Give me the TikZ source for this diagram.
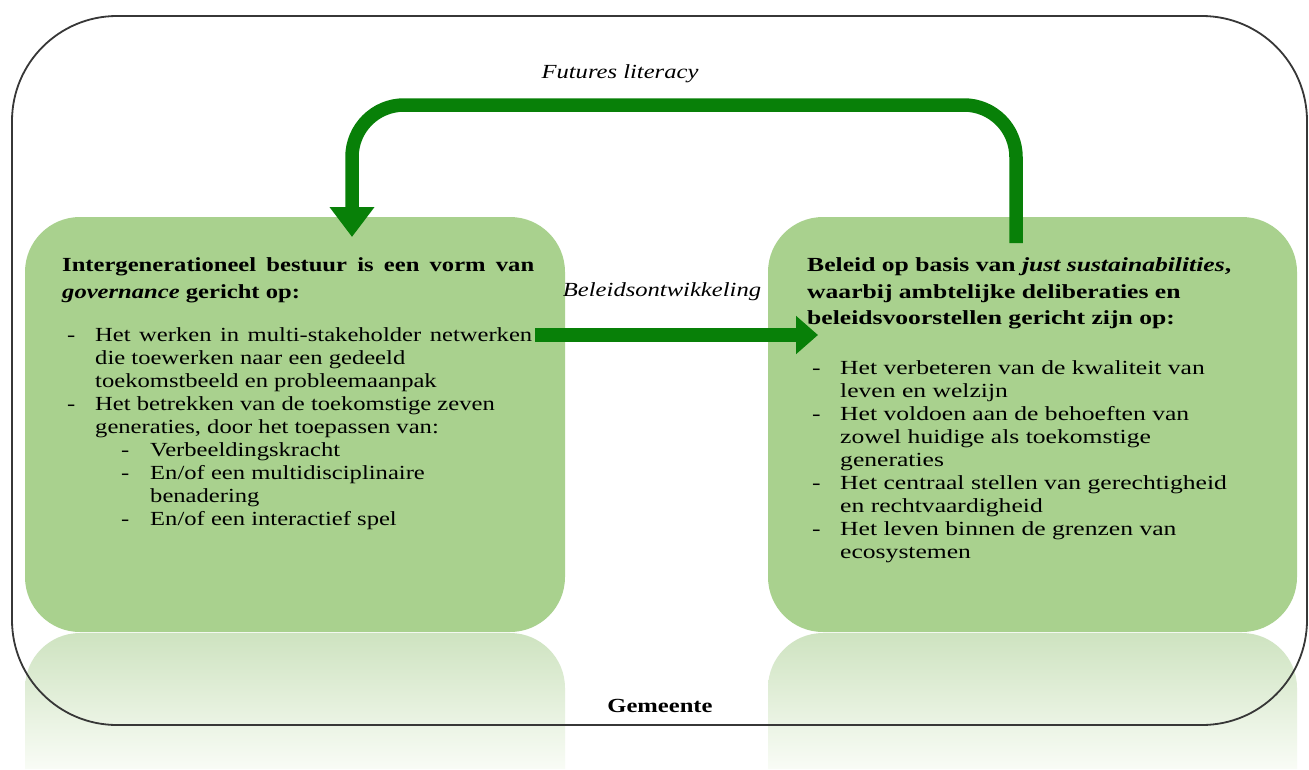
\documentclass[tikz,border=0pt]{standalone}
\usepackage{fontspec}
\setmainfont{Liberation Serif}[FakeStretch=1.23]
\newfontfamily\rfont{Liberation Serif}[FakeStretch=1.28]
\usetikzlibrary{arrows.meta}
\definecolor{boxgreen}{RGB}{169,209,142}
\definecolor{arrowgreen}{RGB}{8,128,8}
\definecolor{framegray}{RGB}{55,55,55}
\definecolor{refltop}{RGB}{206,227,192}
\definecolor{reflbot}{RGB}{249,252,246}
\newcommand{\txtline}[4]{\node[txt] (#1) at (#2,#3) {#4};}
\newcommand{\rtxtline}[4]{\node[rtxt] (#1) at (#2,#3) {#4};}
\begin{document}
\begin{tikzpicture}[x=1pt,y=-1pt,
  txt/.style={anchor=base west, inner sep=0pt, font=\fontsize{20}{23}\selectfont},
  rtxt/.style={anchor=base west, inner sep=0pt, font=\rfont\fontsize{20}{23}\selectfont},
  ttl/.style={txt, font=\fontsize{20}{23}\selectfont\bfseries},
  rttl/.style={txt, font=\rfont\fontsize{20}{23}\selectfont\bfseries},
  lbl/.style={anchor=base, inner sep=0pt, font=\fontsize{20}{23}\selectfont\itshape},
  greenbox/.style={fill=boxgreen, draw=none, rounded corners=55pt, inner sep=0pt},
  framebox/.style={draw=framegray, line width=1.8pt, rounded corners=105pt, inner sep=0pt},
  bigarrow/.style={draw=arrowgreen, line width=13.5pt},
  reflection/.style={top color=refltop, bottom color=reflbot}
]
\useasboundingbox (0,0) rectangle (1309,769);
\fill[white] (0,0) rectangle (1309,769);

% reflections
\shade[reflection] (25,769) -- (25,688) arc[start angle=180, end angle=270, radius=55] -- (510,633) arc[start angle=270, end angle=360, radius=55] -- (565,769) -- cycle;
\shade[reflection] (768,769) -- (768,688) arc[start angle=180, end angle=270, radius=55] -- (1242,633) arc[start angle=270, end angle=360, radius=55] -- (1297,769) -- cycle;

% boxes
\node[greenbox, minimum width=540pt, minimum height=415pt] (L) at (295,424.5) {};
\node[greenbox, minimum width=529pt, minimum height=415pt] (R) at (1032.5,424.5) {};

% frame
\node[framebox, minimum width=1295pt, minimum height=709pt] (frame) at (659.5,370.5) {};

% arrows
\coordinate (fstart) at (1016,243);
\coordinate (fend) at (352,237);
\coordinate (ftop) at (0,105);
\draw[bigarrow, rounded corners=52pt, -{Triangle[width=43pt,length=30pt]}]
  (fstart) -- (fstart |- ftop) -- (fend |- ftop) -- (fend);
\coordinate (mstart) at (535,335);
\coordinate (mend) at (818,335);
\draw[bigarrow, -{Triangle[width=37pt,length=22pt]}] (mstart) -- (mend);

% labels
\node[lbl] (fl) at (620,78) {Futures literacy};
\node[lbl] (bo) at (662,296) {Beleidsontwikkeling};
\node[anchor=base, inner sep=0pt, font=\fontsize{20}{23}\selectfont\bfseries] (gem) at (660,712) {Gemeente};

% left text
\node[ttl] (lt1) at (62,271) {\makebox[472pt][s]{Intergenerationeel bestuur is een vorm van}};
\node[ttl] (lt2) at (62,298) {\textit{governance} gericht op:};
\txtline{ld1}{67}{341}{-}
\txtline{l1}{95}{341}{\makebox[437pt][s]{Het werken in multi-stakeholder netwerken}}
\txtline{l2}{95}{364}{die toewerken naar een gedeeld}
\txtline{l3}{95}{387}{toekomstbeeld en probleemaanpak}
\txtline{ld2}{67}{410}{-}
\txtline{l4}{95}{410}{Het betrekken van de toekomstige zeven}
\txtline{l5}{95}{433}{generaties, door het toepassen van:}
\txtline{ld3}{121}{456}{-}
\txtline{l6}{150}{456}{Verbeeldingskracht}
\txtline{ld4}{121}{479}{-}
\txtline{l7}{150}{479}{En/of een multidisciplinaire}
\txtline{l8}{150}{502}{benadering}
\txtline{ld5}{121}{525}{-}
\txtline{l9}{150}{525}{En/of een interactief spel}

% right text
\node[rttl] (rt1) at (807,271) {Beleid op basis van \textit{just sustainabilities},};
\node[rttl] (rt2) at (807,298) {waarbij ambtelijke deliberaties en};
\node[rttl] (rt3) at (807,324) {beleidsvoorstellen gericht zijn op:};
\rtxtline{rd1}{812}{374}{-}
\rtxtline{r1}{840}{374}{Het verbeteren van de kwaliteit van}
\rtxtline{r2}{840}{397}{leven en welzijn}
\rtxtline{rd2}{812}{420}{-}
\rtxtline{r3}{840}{420}{Het voldoen aan de behoeften van}
\rtxtline{r4}{840}{443}{zowel huidige als toekomstige}
\rtxtline{r5}{840}{466}{generaties}
\rtxtline{rd3}{812}{489}{-}
\rtxtline{r6}{840}{489}{Het centraal stellen van gerechtigheid}
\rtxtline{r7}{840}{512}{en rechtvaardigheid}
\rtxtline{rd4}{812}{535}{-}
\rtxtline{r8}{840}{535}{Het leven binnen de grenzen van}
\rtxtline{r9}{840}{558}{ecosystemen}
\end{tikzpicture}
\end{document}
